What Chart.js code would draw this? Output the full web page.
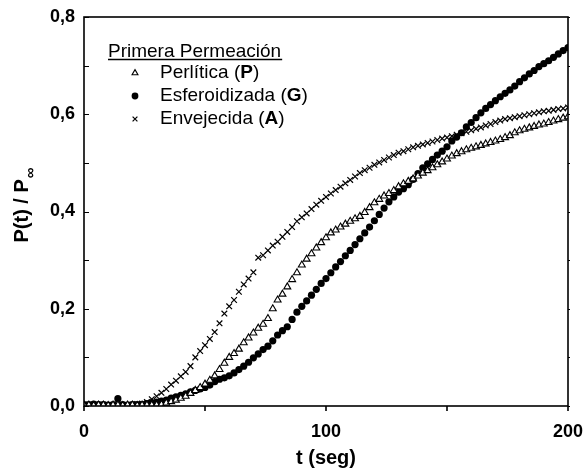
<!DOCTYPE html>
<html>
<head>
<meta charset="utf-8">
<script src="https://cdn.jsdelivr.net/npm/chart.js@4/dist/chart.umd.min.js"></script>
<style>
  html, body { margin: 0; padding: 0; background: #fff; }
  #wrap { width: 585px; height: 473px; }
</style>
</head>
<body>
<div id="wrap"><canvas id="myChart" width="585" height="473"></canvas></div>
<script>
// time (s)
const tiempo = [0,2,4,6,8,10,12,14,16,18,20,22,24,26,28,30,32,34,36,38,40,42,44,46,48,50,
  52,54,56,58,60,62,64,66,68,70,72,74,76,78,80,82,84,86,88,90,92,94,96,98,100,
  102,104,106,108,110,112,114,116,118,120,122,124,126,128,130,132,134,136,138,140,
  142,144,146,148,150,152,154,156,158,160,162,164,166,168,170,172,174,176,178,180,
  182,184,186,188,190,192,194,196,198,200];

// Perlítica (P) - triangles
const perlitica = [0.002,0.002,0.001,0.002,0.002,0.001,0.002,0.002,0.001,0.002,0.002,0.001,0.002,0.002,0.002,0.002,
  0.003,0.006,0.009,0.012,0.016,0.02,0.026,0.032,0.038,0.045,0.053,0.062,0.075,0.088,0.1,
  0.108,0.117,0.13,0.14,0.15,0.16,0.168,0.18,0.2,0.218,0.23,0.245,0.26,0.274,0.29,
  0.302,0.313,0.325,0.336,0.346,0.356,0.362,0.368,0.374,0.38,0.385,0.39,0.398,0.408,0.418,
  0.425,0.432,0.437,0.443,0.451,0.457,0.462,0.467,0.473,0.479,0.484,0.49,0.496,0.502,0.508,
  0.514,0.519,0.523,0.527,0.53,0.533,0.536,0.539,0.542,0.545,0.548,0.552,0.556,0.562,0.566,
  0.569,0.572,0.575,0.578,0.58,0.583,0.586,0.589,0.592,0.595];

// Esferoidizada (G) - filled dots
const esferoidizada = [0.003,0.003,0.004,0.003,0.003,0.002,0.003,0.015,0.003,0.002,0.003,0.003,0.003,0.005,0.007,0.008,
  0.01,0.012,0.016,0.019,0.022,0.025,0.029,0.032,0.035,0.038,0.043,0.05,0.055,0.058,0.062,
  0.068,0.075,0.082,0.09,0.099,0.107,0.116,0.123,0.134,0.146,0.155,0.163,0.178,0.193,0.205,
  0.216,0.228,0.24,0.252,0.262,0.274,0.286,0.297,0.309,0.32,0.332,0.344,0.356,0.368,0.381,
  0.394,0.407,0.42,0.43,0.44,0.447,0.455,0.466,0.478,0.49,0.498,0.507,0.516,0.524,0.533,
  0.545,0.553,0.562,0.574,0.583,0.593,0.603,0.612,0.62,0.628,0.636,0.643,0.65,0.658,0.667,
  0.675,0.683,0.69,0.698,0.704,0.71,0.717,0.724,0.731,0.737];

// Envejecida (A) - crosses
const envejecida = [0.002,0.003,0.002,0.002,0.003,0.002,0.002,0.003,0.002,0.002,0.003,0.004,0.005,0.008,0.014,0.02,
  0.027,0.035,0.044,0.052,0.061,0.07,0.082,0.1,0.113,0.125,0.138,0.152,0.17,0.19,0.205,
  0.218,0.235,0.25,0.262,0.275,0.305,0.31,0.32,0.33,0.338,0.348,0.358,0.368,0.38,0.388,
  0.396,0.405,0.414,0.422,0.43,0.437,0.444,0.451,0.458,0.465,0.472,0.479,0.485,0.49,0.496,
  0.501,0.506,0.511,0.516,0.521,0.524,0.528,0.532,0.535,0.538,0.541,0.544,0.547,0.55,0.552,
  0.555,0.558,0.561,0.564,0.567,0.57,0.573,0.577,0.58,0.584,0.587,0.59,0.592,0.594,0.596,
  0.598,0.6,0.602,0.604,0.606,0.607,0.609,0.611,0.612,0.614];

const xTicksLabelled = [0, 100, 200];
const yTicksLabelled = [0, 0.2, 0.4, 0.6, 0.8];

const legendTitle = 'Primera Permeación';
const legendItems = [
  { name: 'Perlítica', key: 'P' },
  { name: 'Esferoidizada', key: 'G' },
  { name: 'Envejecida', key: 'A' }
];

const FONT = "'Liberation Sans', Arial, sans-serif";

function pts(vals) {
  return tiempo.map((t, i) => ({ x: t, y: vals[i] }));
}

const datasets = [
  { label: 'Perlítica (P)', data: pts(perlitica), pointStyle: 'triangle', pointRadius: 4,
    borderColor: '#000', backgroundColor: '#fff', pointBorderWidth: 1.1, showLine: false },
  { label: 'Esferoidizada (G)', data: pts(esferoidizada), pointStyle: 'circle', pointRadius: 3.6,
    borderColor: '#000', backgroundColor: '#000', pointBorderWidth: 0, showLine: false },
  { label: 'Envejecida (A)', data: pts(envejecida), pointStyle: 'crossRot', pointRadius: 4,
    borderColor: '#000', backgroundColor: '#000', pointBorderWidth: 1.2, showLine: false }
];

// frame, ticks, y title, legend
const decor = {
  id: 'decor',
  afterDraw(chart) {
    const ctx = chart.ctx;
    const a = chart.chartArea;
    const xs = chart.scales.x, ys = chart.scales.y;
    ctx.save();
    ctx.strokeStyle = '#000';
    ctx.lineWidth = 1.6;
    ctx.strokeRect(a.left, a.top, a.right - a.left, a.bottom - a.top);
    ctx.lineWidth = 1;
    ctx.beginPath();
    ys.ticks.forEach(tk => {
      const y = Math.round(ys.getPixelForValue(tk.value)) + 0.5;
      ctx.moveTo(a.left, y); ctx.lineTo(a.left + 5, y);
      ctx.moveTo(a.right, y); ctx.lineTo(a.right + 2, y);
    });
    ctx.stroke();
    ctx.lineWidth = 1.6;
    ctx.beginPath();
    xs.ticks.forEach(tk => {
      const x = xs.getPixelForValue(tk.value);
      ctx.moveTo(x, a.bottom); ctx.lineTo(x, a.bottom + 5);
    });
    ctx.stroke();

    // y axis title with subscript
    ctx.fillStyle = '#000';
    ctx.translate(21, (a.top + a.bottom) / 2 - 6);
    ctx.rotate(-Math.PI / 2);
    ctx.textBaseline = 'alphabetic';
    ctx.font = 'bold 20px ' + FONT;
    const main = 'P(t) / P';
    const wMain = ctx.measureText(main).width;
    ctx.font = 'bold 15px ' + FONT;
    const wSub = ctx.measureText('\u221E').width;
    const x0 = -(wMain + wSub) / 2;
    ctx.font = 'bold 20px ' + FONT;
    ctx.fillText(main, x0, 7);
    ctx.font = 'bold 15px ' + FONT;
    ctx.fillText('\u221E', x0 + wMain + 1, 14);
    ctx.restore();

    // legend
    ctx.save();
    ctx.fillStyle = '#000';
    ctx.font = '19px ' + FONT;
    ctx.textBaseline = 'alphabetic';
    ctx.fillText(legendTitle, 108, 57);
    const wt = ctx.measureText(legendTitle).width;
    ctx.lineWidth = 1.3;
    ctx.beginPath(); ctx.moveTo(108, 59.5); ctx.lineTo(108 + wt + 1, 59.5); ctx.stroke();
    const rowsY = [73, 96, 119];
    legendItems.forEach((it, i) => {
      const ds = datasets[i];
      ctx.strokeStyle = '#000';
      ctx.fillStyle = ds.backgroundColor;
      ctx.lineWidth = ds.pointBorderWidth || 1;
      Chart.helpers.drawPoint(ctx, { pointStyle: ds.pointStyle, radius: 3.4, rotation: 0,
        borderWidth: ds.pointBorderWidth }, 135, rowsY[i]);
      ctx.fillStyle = '#000';
      ctx.textBaseline = 'middle';
      ctx.font = '19px ' + FONT;
      let x = 160;
      const p1 = it.name + ' (';
      ctx.fillText(p1, x, rowsY[i]); x += ctx.measureText(p1).width;
      ctx.font = 'bold 19px ' + FONT;
      ctx.fillText(it.key, x, rowsY[i]); x += ctx.measureText(it.key).width;
      ctx.font = '19px ' + FONT;
      ctx.fillText(')', x, rowsY[i]);
    });
    ctx.restore();
  }
};

function createChart() {
  const ctx = document.getElementById('myChart').getContext('2d');
  new Chart(ctx, {
    type: 'scatter',
    data: { datasets: datasets },
    plugins: [decor],
    options: {
      responsive: false,
      animation: false,
      layout: { padding: { top: 17, right: 17, left: 0, bottom: 0 } },
      plugins: { legend: { display: false }, tooltip: { enabled: false } },
      scales: {
        x: {
          type: 'linear', min: 0, max: 200,
          afterFit(s) { s.height = 67; s.paddingLeft = 0; s.paddingRight = 0; },
          grid: { display: false, drawTicks: false },
          border: { display: false },
          ticks: {
            stepSize: 50, autoSkip: false, maxRotation: 0, padding: 15, color: '#000',
            font: { family: FONT, size: 18, weight: 'bold' },
            callback: v => xTicksLabelled.includes(v) ? String(v) : ''
          },
          title: {
            display: true, text: 't (seg)', color: '#000',
            font: { family: FONT, size: 20, weight: 'bold' },
            padding: { top: 0, bottom: 3 }
          }
        },
        y: {
          type: 'linear', min: 0, max: 0.8,
          afterFit(s) { s.width = 84; s.paddingTop = 0; s.paddingBottom = 0; },
          grid: { display: false, drawTicks: false },
          border: { display: false },
          ticks: {
            stepSize: 0.1, autoSkip: false, padding: 9, color: '#000',
            font: { family: FONT, size: 18, weight: 'bold' },
            callback: v => yTicksLabelled.some(l => Math.abs(l - v) < 1e-6) ? v.toFixed(1).replace('.', ',') : ''
          }
        }
      }
    }
  });
}

createChart();
</script>
</body>
</html>
